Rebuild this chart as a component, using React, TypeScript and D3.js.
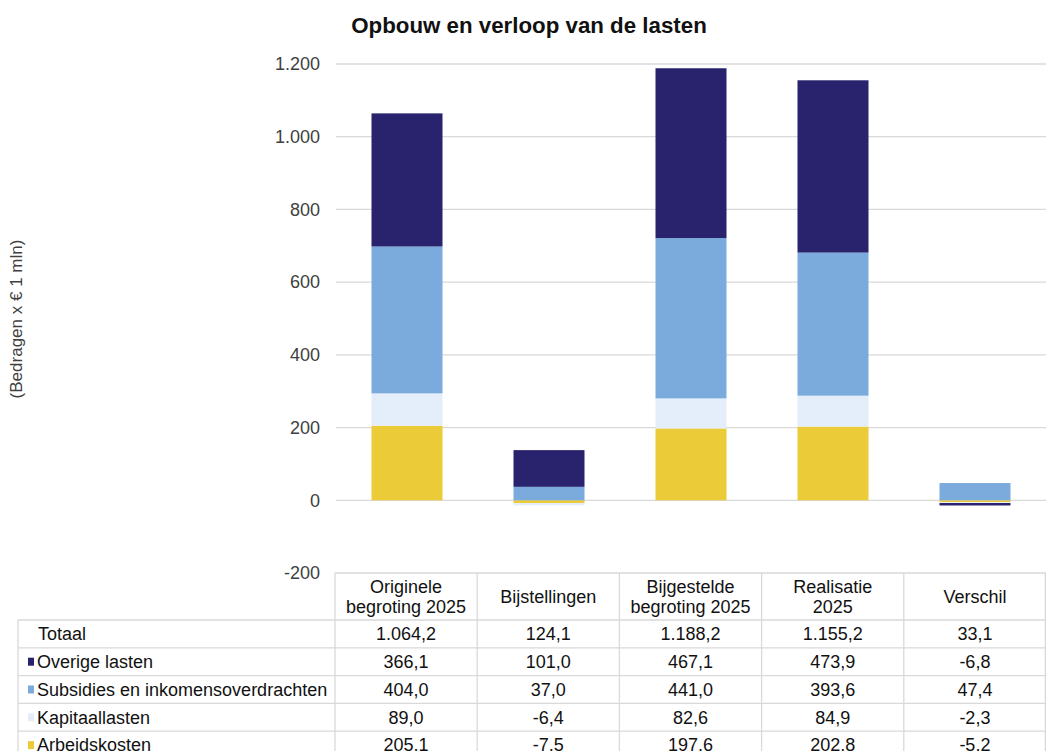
import React from "react";
import * as d3 from "d3";

const categories = ["Originele begroting 2025", "Bijstellingen", "Bijgestelde begroting 2025", "Realisatie 2025", "Verschil"];
const headerLines = [["Originele", "begroting 2025"], ["Bijstellingen"], ["Bijgestelde", "begroting 2025"], ["Realisatie", "2025"], ["Verschil"]];

const totaal = [1064.2, 124.1, 1188.2, 1155.2, 33.1];
const overigeLasten = [366.1, 101.0, 467.1, 473.9, -6.8];
const subsidies = [404.0, 37.0, 441.0, 393.6, 47.4];
const kapitaallasten = [89.0, -6.4, 82.6, 84.9, -2.3];
const arbeidskosten = [205.1, -7.5, 197.6, 202.8, -5.2];

const yTicks = [-200, 0, 200, 400, 600, 800, 1000, 1200];

// stack order bottom -> top
const series = [
  { key: "arbeid", label: "Arbeidskosten", values: arbeidskosten, color: "#eccb38" },
  { key: "kapitaal", label: "Kapitaallasten", values: kapitaallasten, color: "#e3eefa" },
  { key: "subsidie", label: "Subsidies en inkomensoverdrachten", values: subsidies, color: "#7baadd" },
  { key: "overig", label: "Overige lasten", values: overigeLasten, color: "#29236e" },
];

const nl = d3.formatLocale({ decimal: ",", thousands: ".", grouping: [3], currency: ["€ ", ""], minus: "-" });
const fmtTick = nl.format(",d");
const fmtVal = nl.format(",.1f");

const W = 1046;
const H = 751;
const plotLeft = 336;
const plotRight = 1046;
const tableLeft = 18;
const font = "'Liberation Sans', Arial, sans-serif";

export default function App() {
  const y = d3.scaleLinear().domain([-200, 1200]).range([573, 64]);
  const x = d3.scaleBand().domain(categories).range([plotLeft, plotRight]).paddingInner(0.5).paddingOuter(0.25);
  const col = d3.scaleBand().domain(categories).range([plotLeft - 1, plotRight]);

  const rows = categories.map((c, i) => {
    const r: Record<string, any> = { cat: c };
    series.forEach((s) => (r[s.key] = s.values[i]));
    return r;
  });
  const stacked = d3
    .stack<any>()
    .keys(series.map((s) => s.key))
    .offset(d3.stackOffsetDiverging)(rows);

  const headTop = y(-200);
  const headH = 47;
  const rowH = 27.8;
  const bodyTop = headTop + headH;

  const tableRows = [
    { label: "Totaal", values: totaal, color: null as string | null },
    { label: "Overige lasten", values: overigeLasten, color: series[3].color },
    { label: "Subsidies en inkomensoverdrachten", values: subsidies, color: series[2].color },
    { label: "Kapitaallasten", values: kapitaallasten, color: series[1].color },
    { label: "Arbeidskosten", values: arbeidskosten, color: series[0].color },
  ];

  const grid = "#d9d9d9";

  return (
    <div>
      <style>{"body{margin:0}"}</style>
      <svg width={W} height={H} style={{ display: "block", fontFamily: font }}>
        <rect width={W} height={H} fill="#fff" />
        <text x={529} y={33} textAnchor="middle" fontSize={22.3} fontWeight="bold" fill="#111">
          Opbouw en verloop van de lasten
        </text>
        <text
          transform={`translate(18,319) rotate(-90)`}
          textAnchor="middle"
          dominantBaseline="middle"
          fontSize={17}
          fill="#404040"
        >
          (Bedragen x € 1 mln)
        </text>

        {yTicks.map((t) => (
          <g key={t}>
            {t > -200 && <line x1={plotLeft} x2={plotRight} y1={y(t)} y2={y(t)} stroke={grid} strokeWidth={1.3} />}
            <text x={320} y={y(t)} dy="0.35em" textAnchor="end" fontSize={18} fill="#404040">
              {fmtTick(t)}
            </text>
          </g>
        ))}

        {stacked.map((layer, li) => (
          <g key={layer.key} fill={series[li].color}>
            {layer.map((d, i) => (
              <rect
                key={i}
                x={x(categories[i])}
                width={x.bandwidth()}
                y={y(Math.max(d[0], d[1]))}
                height={Math.abs(y(d[0]) - y(d[1]))}
              />
            ))}
          </g>
        ))}

        {/* data table */}
        <g stroke={grid} strokeWidth={1.3}>
          <line x1={col(categories[0])} x2={plotRight} y1={headTop} y2={headTop} />
          {tableRows.map((_, i) => (
            <line key={i} x1={tableLeft} x2={plotRight} y1={bodyTop + i * rowH} y2={bodyTop + i * rowH} />
          ))}
          <line x1={tableLeft} x2={tableLeft} y1={bodyTop} y2={H} />
          {categories.map((c) => (
            <line key={c} x1={col(c)} x2={col(c)} y1={headTop} y2={H} />
          ))}
          <line x1={plotRight - 0.7} x2={plotRight - 0.7} y1={headTop} y2={H} />
        </g>

        {categories.map((c, i) => {
          const lines = headerLines[i];
          const cx = (col(c) as number) + col.bandwidth() / 2;
          const cy = headTop + headH / 2;
          return (
            <text key={c} x={cx} textAnchor="middle" fontSize={18} fill="#111">
              {lines.map((l, j) => (
                <tspan key={j} x={cx} y={cy + (j - (lines.length - 1) / 2) * 19.5} dy="0.35em">
                  {l}
                </tspan>
              ))}
            </text>
          );
        })}

        {tableRows.map((r, ri) => {
          const cy = bodyTop + ri * rowH + rowH / 2;
          return (
            <g key={r.label}>
              {r.color && <rect x={28} y={cy - 4} width={6} height={8} fill={r.color} />}
              <text x={r.color ? 37 : 38} y={cy} dy="0.35em" fontSize={18} fill="#111">
                {r.label}
              </text>
              {r.values.map((v, i) => (
                <text
                  key={i}
                  x={(col(categories[i]) as number) + col.bandwidth() / 2}
                  y={cy}
                  dy="0.35em"
                  textAnchor="middle"
                  fontSize={18}
                  fill="#111"
                >
                  {fmtVal(v)}
                </text>
              ))}
            </g>
          );
        })}
      </svg>
    </div>
  );
}
